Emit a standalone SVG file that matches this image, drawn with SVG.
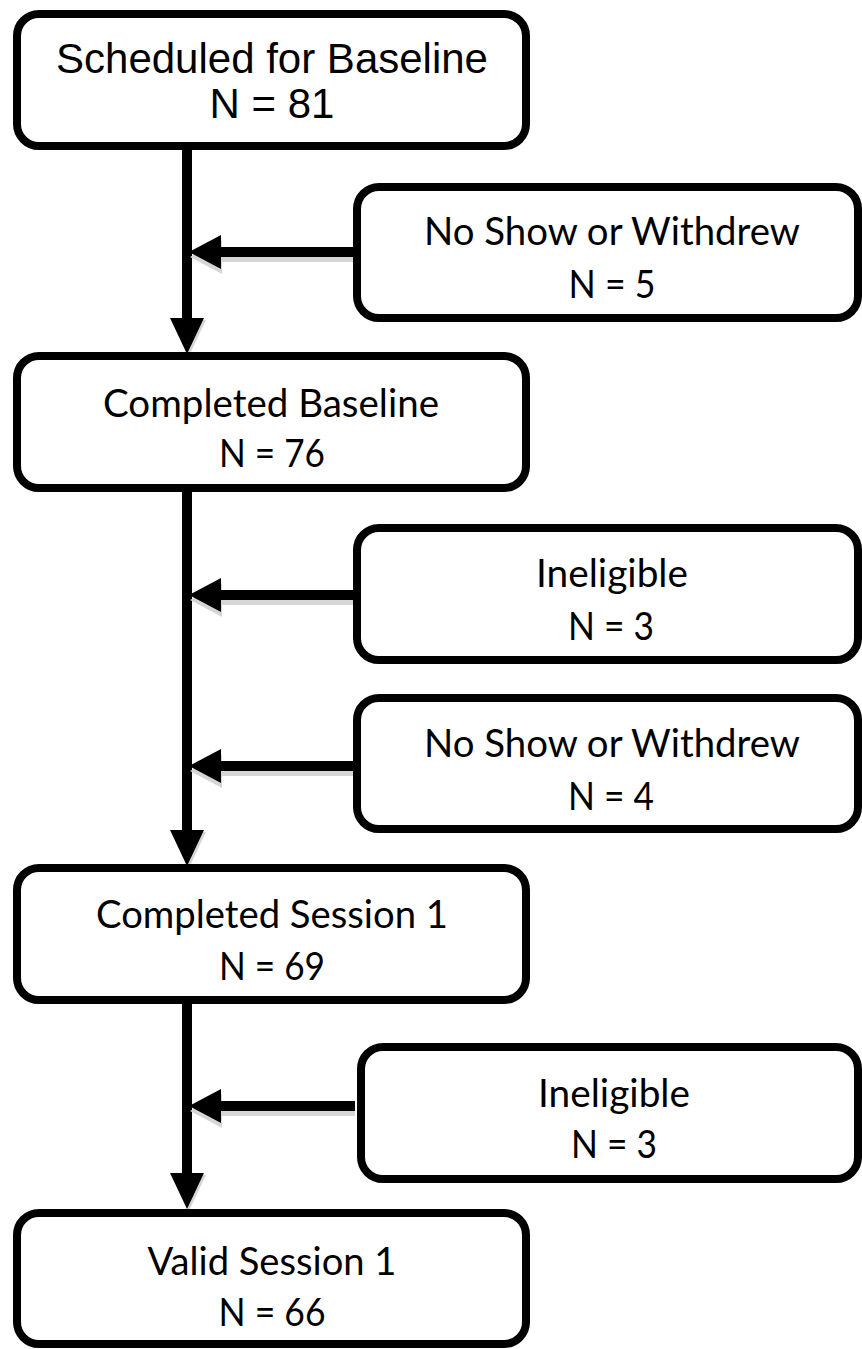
<svg xmlns="http://www.w3.org/2000/svg" width="862" height="1349" viewBox="0 0 862 1349">
<style>
.box{fill:#fff;stroke:#000;stroke-width:8}
.ta{font-family:"Liberation Sans",Arial,sans-serif;font-size:42px;fill:#000;text-anchor:middle}
.tc{font-family:Lato,"Open Sans",sans-serif;font-size:38px;fill:#000;text-anchor:middle}
.ln{stroke:#000;stroke-width:10;fill:none}
.sh{fill:#d6d6d6}
.hd{fill:#000}
</style>
<defs>
<g id="harrow-sh"><rect x="219" y="-5" width="136" height="10"/><polygon points="190,0 222,-17 222,17"/></g>
<g id="harrow"><rect x="218" y="-5" width="137" height="10"/><polygon points="189,0 221,-17 221,17"/></g>
<polygon id="darrow" points="170,0 204,0 187,36"/>
</defs>
<g id="connectors">
<line class="ln" x1="187" y1="150" x2="187" y2="322"/>
<line class="ln" x1="187" y1="492" x2="187" y2="834"/>
<line class="ln" x1="187" y1="1004" x2="187" y2="1177"/>
<use href="#harrow-sh" class="sh" transform="translate(0,257)"/>
<use href="#harrow-sh" class="sh" transform="translate(0,600)"/>
<use href="#harrow-sh" class="sh" transform="translate(0,771)"/>
<use href="#harrow-sh" class="sh" transform="translate(0,1111)"/>
<use href="#harrow" class="hd" transform="translate(0,252)"/>
<use href="#harrow" class="hd" transform="translate(0,595)"/>
<use href="#harrow" class="hd" transform="translate(0,766)"/>
<use href="#harrow" class="hd" transform="translate(0,1106)"/>
<use href="#darrow" class="sh" transform="translate(2,320)"/>
<use href="#darrow" class="sh" transform="translate(2,832)"/>
<use href="#darrow" class="sh" transform="translate(2,1175)"/>
<use href="#darrow" class="hd" transform="translate(0,318)"/>
<use href="#darrow" class="hd" transform="translate(0,830)"/>
<use href="#darrow" class="hd" transform="translate(0,1173)"/>
</g>
<g id="n1"><rect class="box" x="17" y="14" width="509" height="132" rx="22"/>
<text class="ta" x="272" y="73">Scheduled for Baseline</text>
<text class="ta" x="272" y="118">N = 81</text></g>
<g id="n2"><rect class="box" x="357" y="187" width="501" height="131" rx="22"/>
<text class="tc" x="612" y="245" textLength="376" lengthAdjust="spacingAndGlyphs">No Show or Withdrew</text>
<text class="tc" x="612" y="298" textLength="87" lengthAdjust="spacingAndGlyphs">N = 5</text></g>
<g id="n3"><rect class="box" x="17" y="356" width="509" height="132" rx="22"/>
<text class="tc" x="271" y="417" textLength="336" lengthAdjust="spacingAndGlyphs">Completed Baseline</text>
<text class="tc" x="272" y="467" textLength="106" lengthAdjust="spacingAndGlyphs">N = 76</text></g>
<g id="n4"><rect class="box" x="357" y="528" width="501" height="132" rx="22"/>
<text class="tc" x="612" y="587" textLength="152" lengthAdjust="spacingAndGlyphs">Ineligible</text>
<text class="tc" x="611" y="640" textLength="86" lengthAdjust="spacingAndGlyphs">N = 3</text></g>
<g id="n5"><rect class="box" x="357" y="698" width="501" height="131" rx="22"/>
<text class="tc" x="612" y="757" textLength="376" lengthAdjust="spacingAndGlyphs">No Show or Withdrew</text>
<text class="tc" x="611" y="810" textLength="86" lengthAdjust="spacingAndGlyphs">N = 4</text></g>
<g id="n6"><rect class="box" x="17" y="868" width="509" height="132" rx="22"/>
<text class="tc" x="272" y="928" textLength="352" lengthAdjust="spacingAndGlyphs">Completed Session 1</text>
<text class="tc" x="272" y="980" textLength="106" lengthAdjust="spacingAndGlyphs">N = 69</text></g>
<g id="n7"><rect class="box" x="361" y="1047" width="497" height="132" rx="22"/>
<text class="tc" x="614" y="1107" textLength="152" lengthAdjust="spacingAndGlyphs">Ineligible</text>
<text class="tc" x="614" y="1158" textLength="86" lengthAdjust="spacingAndGlyphs">N = 3</text></g>
<g id="n8"><rect class="box" x="17" y="1213" width="509" height="131" rx="22"/>
<text class="tc" x="272" y="1275" textLength="249" lengthAdjust="spacingAndGlyphs">Valid Session 1</text>
<text class="tc" x="272" y="1326" textLength="107" lengthAdjust="spacingAndGlyphs">N = 66</text></g>
</svg>
